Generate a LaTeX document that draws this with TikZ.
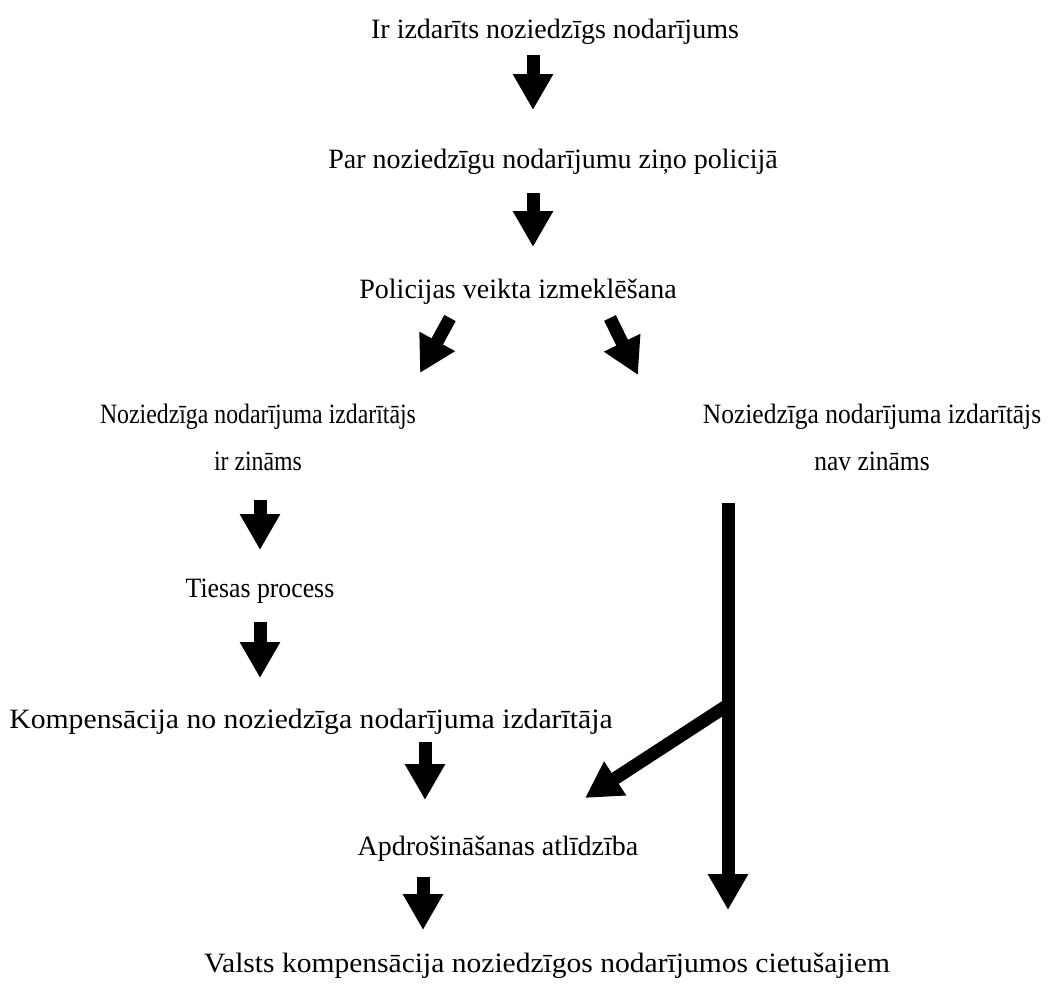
\documentclass[tikz,border=0pt]{standalone}
\usepackage{fontspec}
\setmainfont{Liberation Serif}
\usetikzlibrary{arrows.meta}
\begin{document}
\begin{tikzpicture}[x=1pt,y=-1pt,
  lbl/.style={inner sep=0pt,anchor=base,font=\fontsize{28}{47}\selectfont,align=center},
  bigarrow/.style={line width=13pt,-{Triangle[width=38pt,length=36pt]}}]
\useasboundingbox (0,0) rectangle (1055,988);
\node[lbl] (t1) at (555,38) {Ir izdarīts noziedzīgs nodarījums};
\node[lbl] (t2) at (553,168) {Par noziedzīgu nodarījumu ziņo policijā};
\node[lbl] (t3) at (518,298) {Policijas veikta izmeklēšana};
\node[lbl] (t4l) at (258,470) {\scalebox{0.85}[1]{Noziedzīga nodarījuma izdarītājs}\\\scalebox{0.85}[1]{ir zināms}};
\node[lbl] (t4r) at (872,470) {\scalebox{0.91}[1]{Noziedzīga nodarījuma izdarītājs}\\\scalebox{0.91}[1]{nav zināms}};
\node[lbl] (t5) at (260,597) {\scalebox{0.92}[1]{Tiesas process}};
\node[lbl] (t6) at (311,728) {\scalebox{1.06}[1]{Kompensācija no noziedzīga nodarījuma izdarītāja}};
\node[lbl] (t7) at (498,855) {Apdrošināšanas atlīdzība};
\node[lbl] (t8) at (547,972) {\scalebox{1.055}[1]{Valsts kompensācija noziedzīgos nodarījumos cietušajiem}};
% arrow end points
\coordinate (a1s) at (533,55);  \coordinate (a1e) at (533,110);
\coordinate (a2s) at (533,193); \coordinate (a2e) at (533,247);
\coordinate (a3ls) at (450,318); \coordinate (a3le) at (420,373);
\coordinate (a3rs) at (610,318); \coordinate (a3re) at (638,375);
\coordinate (a4s) at (260,500); \coordinate (a4e) at (260,550);
\coordinate (a5s) at (260,622); \coordinate (a5e) at (260,678);
\coordinate (a6s) at (425,742); \coordinate (a6e) at (425,800);
\coordinate (a7s) at (423,877); \coordinate (a7e) at (423,930);
\coordinate (lgs) at (728,503); \coordinate (lge) at (728,910);
\coordinate (brs) at (728,705); \coordinate (bre) at (585,798);
\draw[bigarrow] (a1s) -- (a1e);
\draw[bigarrow] (a2s) -- (a2e);
\draw[bigarrow] (a3ls) -- (a3le);
\draw[bigarrow] (a3rs) -- (a3re);
\draw[bigarrow] (a4s) -- (a4e);
\draw[bigarrow] (a5s) -- (a5e);
\draw[bigarrow] (a6s) -- (a6e);
\draw[bigarrow] (a7s) -- (a7e);
\draw[bigarrow] (lgs) -- (lge);
\draw[bigarrow] (brs) -- (bre);
\end{tikzpicture}
\end{document}
